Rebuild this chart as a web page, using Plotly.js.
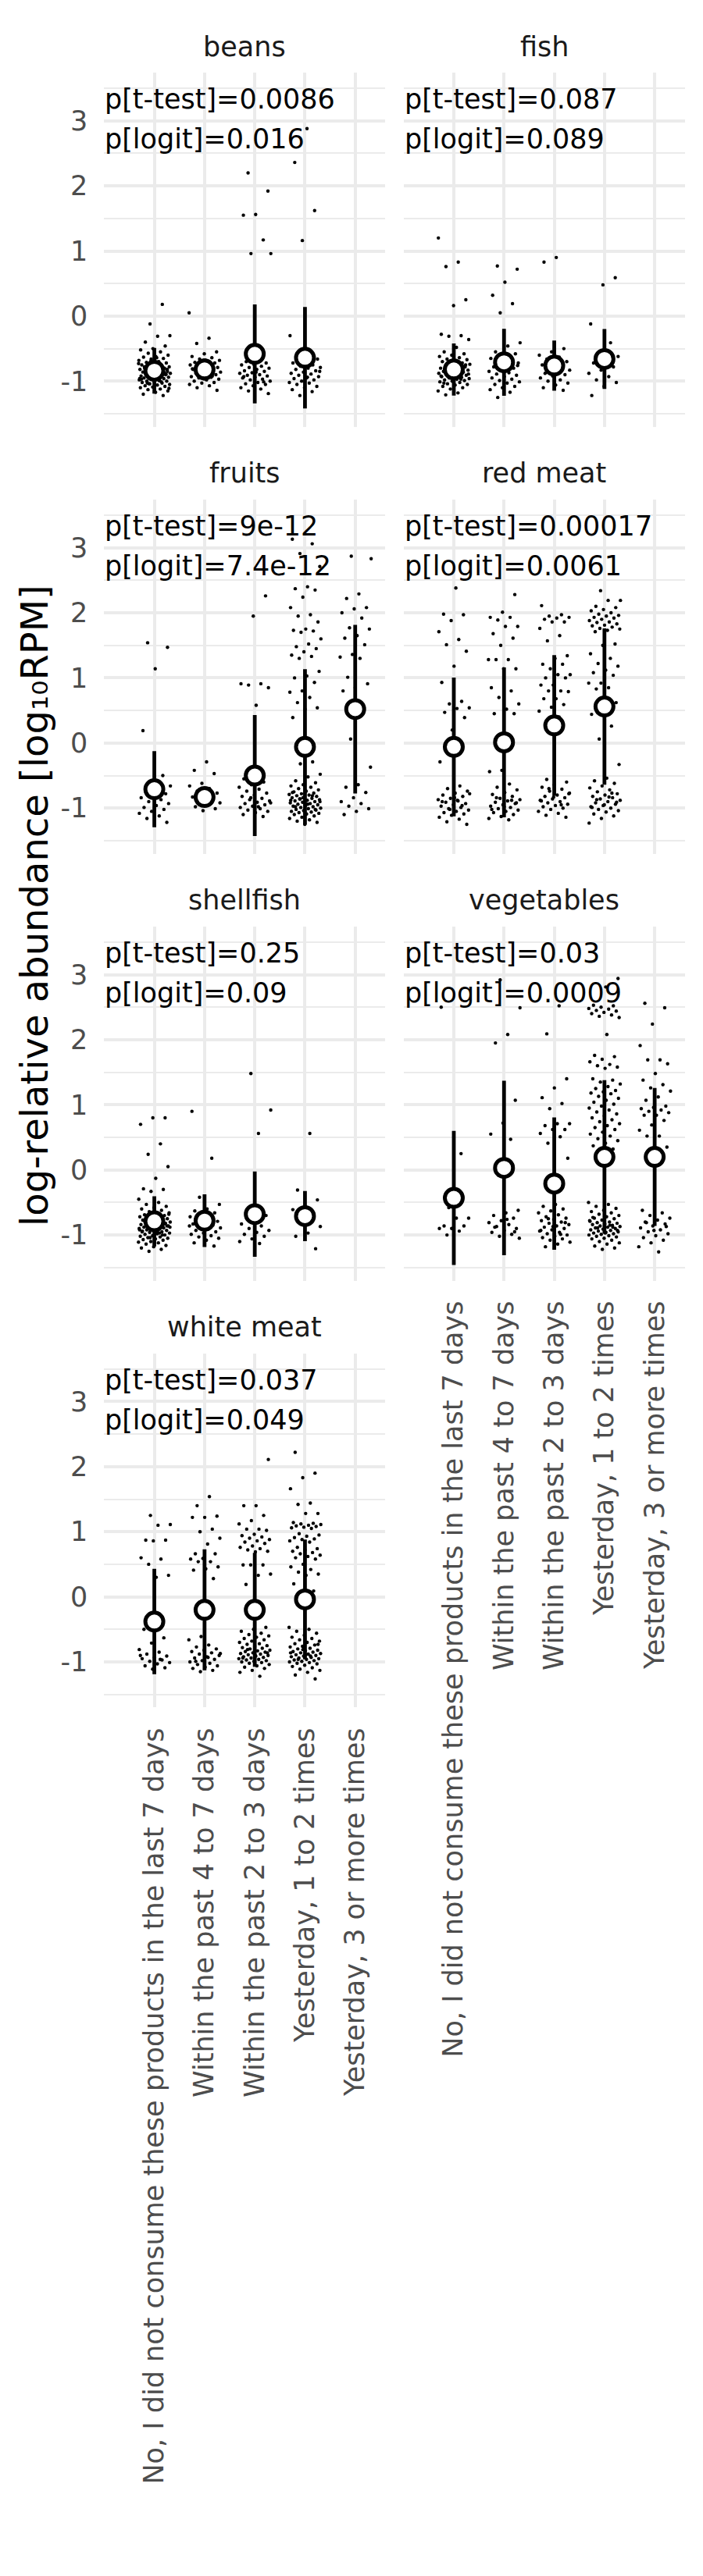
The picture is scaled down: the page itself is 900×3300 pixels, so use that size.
<!DOCTYPE html>
<html>
<head>
<meta charset="utf-8">
<script src="https://cdn.plot.ly/plotly-3.0.1.min.js"></script>
<style>html,body{margin:0;padding:0;background:#fff;}#chart{width:900px;height:3300px;}</style>
</head>
<body>
<div id="chart"></div>
<script>
// ---------------- DATA ----------------
const categories = [
  "No, I did not consume these products in the last 7 days",
  "Within the past 4 to 7 days",
  "Within the past 2 to 3 days",
  "Yesterday, 1 to 2 times",
  "Yesterday, 3 or more times"
];
const facets = ["beans", "fish", "fruits", "red meat", "shellfish", "vegetables", "white meat"];
const pTtest = ["0.0086", "0.087", "9e-12", "0.00017", "0.25", "0.03", "0.037"];
const pLogit = ["0.016", "0.089", "7.4e-12", "0.0061", "0.09", "0.0009", "0.049"];
const yTickVals = [-1, 0, 1, 2, 3];
const yTickText = ["-1", "0", "1", "2", "3"];

// group means and standard deviations (log10 RPM)
const beansMean = [-0.84, -0.82, -0.58, -0.64, null];
const beansSd   = [0.35, 0.17, 0.76, 0.78, null];
const fishMean  = [-0.82, -0.71, -0.76, -0.66, null];
const fishSd    = [0.40, 0.515, 0.385, 0.46, null];
const fruitsMean = [-0.71, -0.83, -0.50, -0.06, 0.52];
const fruitsSd   = [0.585, 0.15, 0.93, 1.195, 1.295];
const redMeatMean = [-0.06, 0.01, 0.27, 0.56, null];
const redMeatSd   = [1.065, 1.15, 1.08, 1.20, null];
const shellfishMean = [-0.79, -0.78, -0.68, -0.71, null];
const shellfishSd   = [0.385, 0.405, 0.655, 0.385, null];
const vegetablesMean = [-0.43, 0.03, -0.21, 0.20, 0.20];
const vegetablesSd   = [1.03, 1.34, 1.015, 1.18, 1.06];
const whiteMeatMean = [-0.38, -0.20, -0.20, -0.04, null];
const whiteMeatSd   = [0.81, 0.93, 0.875, 0.92, null];

// individual observations per category
const beansPts = [
  [0.18,-0.12,-0.30,-0.31,-0.40,-0.46,-0.50,-0.52,-0.55,-0.57,-0.60,-0.62,-0.63,-0.65,-0.66,-0.68,-0.70,-0.71,-0.72,-0.74,-0.75,-0.76,-0.77,-0.78,-0.79,-0.80,-0.80,-0.81,-0.82,-0.83,-0.84,-0.85,-0.85,-0.86,-0.87,-0.88,-0.88,-0.89,-0.90,-0.90,-0.91,-0.92,-0.92,-0.93,-0.94,-0.95,-0.95,-0.96,-0.97,-0.98,-0.99,-1.00,-1.00,-1.01,-1.02,-1.03,-1.04,-1.05,-1.06,-1.07,-1.08,-1.09,-1.10,-1.12,-1.13,-1.15,-1.17,-1.20,-1.22,-0.69,-0.73,-0.83,-0.86,-0.89,-0.93,-0.97,-1.01,-1.04,-1.11,-0.64,-0.78,-0.87,-0.91,-0.96,-0.99,-1.03,-0.82,-0.94],
  [0.05,-0.34,-0.42,-0.55,-0.58,-0.62,-0.64,-0.66,-0.68,-0.70,-0.71,-0.72,-0.74,-0.75,-0.76,-0.78,-0.79,-0.80,-0.82,-0.83,-0.85,-0.86,-0.87,-0.88,-0.90,-0.91,-0.93,-0.94,-0.95,-0.97,-0.98,-1.00,-1.02,-1.03,-1.05,-1.07,-1.10,-1.14,-0.73,-0.81,-0.92],
  [2.20,1.92,1.56,1.55,1.17,0.96,0.96,-0.68,-0.70,-0.72,-0.74,-0.75,-0.77,-0.79,-0.80,-0.82,-0.84,-0.85,-0.87,-0.88,-0.90,-0.91,-0.92,-0.94,-0.95,-0.97,-0.98,-1.00,-1.02,-1.04,-1.05,-1.07,-1.10,-1.12,-1.15,-1.19,-0.86,-0.93,-1.01],
  [2.88,2.36,1.62,1.16,-0.30,-0.55,-0.62,-0.66,-0.70,-0.72,-0.75,-0.77,-0.79,-0.80,-0.82,-0.84,-0.86,-0.88,-0.89,-0.91,-0.93,-0.95,-0.96,-0.98,-1.00,-1.02,-1.03,-1.05,-1.08,-1.10,-1.13,-1.16,-1.22,-0.85,-0.94],
  []
];
const fishPts = [
  [1.20,0.83,0.76,0.25,0.16,-0.28,-0.30,-0.31,-0.36,-0.48,-0.55,-0.58,-0.60,-0.62,-0.64,-0.66,-0.67,-0.69,-0.70,-0.72,-0.73,-0.74,-0.76,-0.77,-0.78,-0.79,-0.80,-0.81,-0.82,-0.83,-0.84,-0.85,-0.86,-0.87,-0.88,-0.89,-0.90,-0.91,-0.92,-0.93,-0.94,-0.95,-0.96,-0.97,-0.98,-0.99,-1.00,-1.01,-1.02,-1.04,-1.05,-1.06,-1.08,-1.10,-1.12,-1.15,-1.18,-1.21,-0.75,-0.85,-0.92,-0.97,-0.80,-0.89,-0.95,-1.03],
  [0.77,0.72,0.52,0.32,0.19,0.05,-0.41,-0.46,-0.55,-0.58,-0.62,-0.65,-0.68,-0.70,-0.72,-0.75,-0.78,-0.80,-0.82,-0.85,-0.87,-0.89,-0.91,-0.93,-0.95,-0.97,-0.99,-1.01,-1.03,-1.05,-1.08,-1.10,-1.13,-1.17,-1.25,-0.76,-0.84],
  [0.90,0.83,-0.50,-0.55,-0.60,-0.63,-0.66,-0.70,-0.72,-0.75,-0.78,-0.80,-0.83,-0.85,-0.88,-0.90,-0.92,-0.95,-0.98,-1.00,-1.03,-1.06,-1.10,-1.14,-0.87],
  [0.59,0.48,-0.12,-0.41,-0.58,-0.62,-0.68,-0.72,-0.78,-0.83,-0.88,-0.93,-0.98,-1.02,-1.08,-1.22],
  []
];
const fruitsPts = [
  [1.54,1.47,1.14,0.19,-0.50,-0.62,-0.66,-0.70,-0.74,-0.78,-0.81,-0.84,-0.87,-0.90,-0.93,-0.96,-0.99,-1.02,-1.05,-1.08,-1.12,-1.16,-1.22],
  [-0.29,-0.42,-0.47,-0.62,-0.66,-0.70,-0.74,-0.77,-0.80,-0.83,-0.86,-0.89,-0.92,-0.95,-0.98,-1.01,-1.04],
  [2.26,1.95,0.91,0.91,0.89,0.85,0.58,-0.55,-0.60,-0.64,-0.68,-0.71,-0.74,-0.77,-0.80,-0.82,-0.85,-0.87,-0.89,-0.91,-0.93,-0.95,-0.97,-0.99,-1.01,-1.03,-1.05,-1.07,-1.10,-1.13,-0.84,-0.92,-0.98],
  [3.13,3.06,2.91,2.71,2.40,2.37,2.35,2.24,2.08,1.97,1.95,1.86,1.75,1.73,1.72,1.70,1.60,1.52,1.48,1.45,1.40,1.35,1.33,1.30,1.10,1.03,1.00,0.93,0.80,0.78,0.70,0.62,0.54,0.52,0.39,-0.29,-0.32,-0.48,-0.52,
   -0.58,-0.61,-0.64,-0.66,-0.68,-0.70,-0.72,-0.74,-0.75,-0.77,-0.78,-0.79,-0.80,-0.81,-0.82,-0.83,-0.84,-0.85,-0.86,-0.87,-0.88,-0.89,-0.90,-0.91,-0.92,-0.93,-0.94,-0.95,-0.96,-0.97,-0.98,-0.99,-1.00,-1.01,-1.02,-1.03,-1.04,-1.05,-1.06,-1.07,-1.08,-1.09,-1.10,-1.12,-1.14,-1.16,-1.18,-1.20,-1.22,-1.25,-0.76,-0.81,-0.86,-0.90,-0.94,-0.98,-1.02,-0.84,-0.88],
  [2.87,2.83,2.29,2.22,2.08,2.06,2.00,1.92,1.77,1.75,1.65,1.61,1.51,1.36,1.32,1.30,1.01,0.91,0.85,0.80,0.56,0.06,-0.37,-0.64,-0.68,-0.76,-0.84,-0.90,-0.93,-0.97,-1.01,-1.05,-1.10]
];
const redMeatPts = [
  [2.38,1.98,1.97,1.88,1.71,1.59,1.51,1.41,1.18,0.93,0.64,0.60,0.54,0.53,0.47,0.39,0.20,-0.29,
   -0.66,-0.70,-0.74,-0.77,-0.80,-0.82,-0.85,-0.87,-0.89,-0.91,-0.93,-0.95,-0.97,-0.99,-1.01,-1.03,-1.05,-1.07,-1.09,-1.11,-1.14,-1.17,-1.21,-1.25,-0.84,-0.90,-0.96,-1.02,-0.78,-0.88],
  [2.28,2.01,1.93,1.93,1.89,1.79,1.79,1.68,1.61,1.50,1.28,1.28,1.28,1.14,1.14,0.85,0.80,0.70,0.60,0.52,0.45,0.45,-0.42,-0.44,
   -0.63,-0.68,-0.72,-0.76,-0.79,-0.82,-0.85,-0.87,-0.89,-0.91,-0.93,-0.95,-0.97,-0.99,-1.01,-1.03,-1.05,-1.07,-1.10,-1.13,-1.16,-1.18,-0.84,-0.92,-0.98,-1.02,-0.88],
  [2.11,1.97,1.95,1.93,1.92,1.90,1.86,1.86,1.76,1.65,1.57,1.34,1.30,1.21,1.21,1.14,1.05,1.05,1.00,1.00,0.89,0.89,0.80,0.80,0.79,0.68,0.68,0.59,0.55,0.49,0.40,
   -0.56,-0.60,-0.64,-0.68,-0.71,-0.74,-0.77,-0.80,-0.82,-0.84,-0.86,-0.88,-0.90,-0.92,-0.94,-0.96,-0.98,-1.00,-1.02,-1.05,-1.08,-1.11,-1.14,-0.83,-0.89,-0.95,-0.70,-0.78],
  [2.34,2.19,2.19,2.10,2.08,2.05,2.03,2.00,1.98,1.96,1.95,1.93,1.92,1.90,1.88,1.86,1.85,1.83,1.81,1.80,1.78,1.76,1.75,1.73,1.71,1.52,1.50,1.37,1.30,1.22,1.18,1.12,1.08,1.04,0.92,0.92,0.85,0.83,0.62,0.60,0.44,0.26,0.06,-0.33,
   -0.54,-0.58,-0.62,-0.66,-0.69,-0.72,-0.75,-0.78,-0.80,-0.82,-0.84,-0.86,-0.88,-0.90,-0.92,-0.94,-0.96,-0.98,-1.00,-1.02,-1.04,-1.06,-1.09,-1.12,-1.16,-1.23,-0.83,-0.87,-0.91,-0.95,-0.99,-0.77],
  []
];
const shellfishPts = [
  [0.80,0.80,0.70,0.40,0.24,0.05,-0.13,-0.29,-0.30,-0.33,-0.45,-0.50,-0.53,-0.56,-0.58,-0.60,-0.62,-0.64,-0.66,-0.67,-0.69,-0.70,-0.71,-0.72,-0.73,-0.74,-0.75,-0.76,-0.77,-0.78,-0.79,-0.80,-0.80,-0.81,-0.82,-0.83,-0.84,-0.85,-0.85,-0.86,-0.87,-0.88,-0.89,-0.90,-0.90,-0.91,-0.92,-0.93,-0.94,-0.95,-0.95,-0.96,-0.97,-0.98,-0.99,-1.00,-1.01,-1.02,-1.03,-1.04,-1.05,-1.06,-1.07,-1.08,-1.10,-1.11,-1.12,-1.14,-1.16,-1.18,-1.20,-1.22,-1.25,-0.68,-0.74,-0.78,-0.83,-0.87,-0.92,-0.97,-0.81,-0.86,-0.91,-0.94,-1.00,-1.04,-0.88,-0.96],
  [0.90,0.18,-0.42,-0.53,-0.60,-0.63,-0.66,-0.69,-0.72,-0.74,-0.77,-0.79,-0.81,-0.83,-0.85,-0.87,-0.89,-0.91,-0.93,-0.95,-0.97,-0.99,-1.01,-1.03,-1.05,-1.08,-1.12,-1.17,-0.76,-0.86],
  [1.48,0.92,0.56,-0.66,-0.70,-0.76,-0.83,-0.86,-0.90,-0.93,-0.96,-0.99,-1.02,-1.06,-1.10,-1.13],
  [0.56,-0.31,-0.46,-0.56,-0.61,-0.70,-0.78,-0.87,-0.97,-1.02,-1.21],
  []
];
const vegetablesPts = [
  [2.50,0.25,-0.58,-0.74,-0.74,-0.86,-0.86,-0.90,-0.90,-0.94,-1.00],
  [2.92,2.49,2.08,1.95,1.07,0.72,0.55,0.47,-0.08,-0.62,-0.66,-0.70,-0.74,-0.78,-0.81,-0.84,-0.87,-0.90,-0.93,-0.96,-0.99,-1.02,-1.05,-0.76,-0.88,-0.95],
  [2.52,2.09,1.40,1.26,1.11,1.02,0.94,0.71,0.71,0.68,0.62,0.62,0.56,0.51,0.41,0.18,
   -0.53,-0.56,-0.60,-0.63,-0.66,-0.69,-0.72,-0.74,-0.76,-0.78,-0.80,-0.82,-0.84,-0.86,-0.88,-0.90,-0.92,-0.94,-0.96,-0.98,-1.00,-1.02,-1.04,-1.06,-1.08,-1.11,-1.14,-1.18,-0.81,-0.87,-0.93,-0.99,-0.75],
  [2.94,2.81,2.53,2.52,2.50,2.48,2.47,2.45,2.44,2.42,2.40,2.38,2.36,2.34,2.08,1.76,1.74,1.70,1.66,1.62,1.60,1.58,1.56,1.40,1.38,1.35,1.32,1.28,1.25,1.22,1.20,1.18,1.17,1.13,1.10,1.07,1.04,1.01,0.98,0.95,0.92,0.89,0.86,0.83,0.80,0.77,0.74,0.71,0.68,0.65,0.62,0.58,0.55,0.52,0.48,0.45,0.41,0.37,0.32,0.11,
   -0.50,-0.53,-0.56,-0.59,-0.62,-0.64,-0.66,-0.68,-0.70,-0.72,-0.74,-0.75,-0.77,-0.78,-0.80,-0.81,-0.82,-0.83,-0.84,-0.85,-0.86,-0.87,-0.88,-0.89,-0.90,-0.91,-0.92,-0.93,-0.94,-0.95,-0.96,-0.97,-0.98,-0.99,-1.00,-1.01,-1.02,-1.03,-1.05,-1.06,-1.08,-1.10,-1.12,-1.14,-1.17,-1.20,-1.22,-0.79,-0.85,-0.89,-0.93,-0.97,-0.73,-0.88],
  [2.56,2.49,2.24,1.91,1.69,1.69,1.63,1.48,1.38,1.31,1.26,1.21,1.12,1.07,0.98,0.96,0.94,0.92,0.90,0.88,0.84,0.84,0.76,0.69,0.61,0.52,0.52,0.35,0.07,
   -0.62,-0.66,-0.70,-0.74,-0.77,-0.80,-0.83,-0.86,-0.89,-0.92,-0.95,-0.98,-1.01,-1.04,-1.08,-1.12,-1.18,-1.26,-0.81,-0.87,-0.93]
];
const whiteMeatPts = [
  [1.25,1.11,1.10,0.87,0.87,0.86,0.60,0.58,0.50,0.33,0.30,-0.50,-0.63,-0.71,-0.81,-0.85,-0.88,-0.91,-0.93,-0.95,-0.97,-0.99,-1.01,-1.03,-1.06,-1.09,-1.11,-0.90,-0.96],
  [1.54,1.40,1.24,1.22,1.22,1.04,1.00,0.90,0.81,0.66,0.66,0.59,0.58,0.54,0.54,0.46,0.43,0.41,0.28,-0.61,-0.66,-0.74,-0.77,-0.80,-0.82,-0.84,-0.86,-0.88,-0.90,-0.92,-0.94,-0.96,-0.98,-1.00,-1.02,-1.04,-1.06,-1.08,-1.10,-1.13,-1.15,-0.87,-0.93,-0.99],
  [2.11,1.40,1.40,1.25,1.17,1.12,1.04,1.04,1.02,0.96,0.94,0.92,0.90,0.88,0.86,0.84,0.82,0.78,0.76,0.74,0.72,0.70,0.69,0.49,0.49,0.49,0.35,0.33,0.19,
   -0.47,-0.50,-0.53,-0.56,-0.58,-0.60,-0.62,-0.64,-0.66,-0.68,-0.70,-0.72,-0.73,-0.75,-0.76,-0.78,-0.79,-0.80,-0.82,-0.83,-0.84,-0.85,-0.86,-0.87,-0.88,-0.89,-0.90,-0.91,-0.92,-0.93,-0.94,-0.95,-0.96,-0.97,-0.98,-0.99,-1.00,-1.01,-1.02,-1.04,-1.06,-1.08,-1.10,-1.13,-1.16,-1.22,-0.81,-0.86,-0.90,-0.94],
  [2.22,1.90,1.83,1.66,1.44,1.42,1.28,1.28,1.14,1.13,1.12,1.11,1.10,1.09,1.08,1.07,1.06,1.05,0.97,0.95,0.93,0.91,0.89,0.88,0.86,0.84,0.76,0.74,0.72,0.70,0.68,0.66,0.64,0.62,0.60,0.58,0.50,0.46,0.42,0.38,0.35,0.33,0.20,0.09,-0.12,
   -0.47,-0.50,-0.53,-0.56,-0.59,-0.62,-0.64,-0.66,-0.68,-0.70,-0.72,-0.74,-0.76,-0.77,-0.79,-0.80,-0.82,-0.83,-0.84,-0.85,-0.86,-0.87,-0.88,-0.89,-0.90,-0.91,-0.92,-0.93,-0.94,-0.95,-0.96,-0.97,-0.98,-0.99,-1.00,-1.01,-1.02,-1.03,-1.05,-1.07,-1.09,-1.11,-1.13,-1.16,-1.20,-1.26,-0.81,-0.86,-0.91,-0.96,-0.73,-0.89],
  []
];

// ---------------- BUILD ----------------
const panelMeans = [beansMean, fishMean, fruitsMean, redMeatMean, shellfishMean, vegetablesMean, whiteMeatMean];
const panelSds   = [beansSd, fishSd, fruitsSd, redMeatSd, shellfishSd, vegetablesSd, whiteMeatSd];
const panelPts   = [beansPts, fishPts, fruitsPts, redMeatPts, shellfishPts, vegetablesPts, whiteMeatPts];

const W = 900, H = 3300;
const colX = [[133.3, 493.3], [516.7, 876.7]];
const rowTop0 = 93.0, rowStep = 546.9, panelH = 453.7;
const FONT = "DejaVu Sans, sans-serif";
const GRID = "#EBEBEB";
const catIdx = [1, 2, 3, 4, 5];

function jit(i, k) {
  const f = ((i + 1) * 0.6180339887 + k * 0.2718 + 0.13) % 1;
  return (f - 0.5) * 0.64;
}

const traces = [];
const layout = {
  width: W, height: H,
  margin: {l: 0, r: 0, t: 0, b: 0},
  paper_bgcolor: "#ffffff", plot_bgcolor: "#ffffff",
  showlegend: false,
  font: {family: FONT, color: "#1A1A1A"},
  annotations: []
};

facets.forEach((name, p) => {
  const row = Math.floor(p / 2), col = p % 2;
  const top = rowTop0 + row * rowStep;
  const bot = top + panelH;
  const n = p + 1;
  const xa = "xaxis" + (n === 1 ? "" : n), ya = "yaxis" + (n === 1 ? "" : n);
  const xr = "x" + (n === 1 ? "" : n), yr = "y" + (n === 1 ? "" : n);
  const isBottom = (name === "white meat" || name === "vegetables");

  layout[xa] = {
    domain: [colX[col][0] / W, colX[col][1] / W],
    anchor: yr, range: [0, 5.6],
    tickmode: "array", tickvals: catIdx, ticktext: categories,
    showticklabels: isBottom, tickangle: -90, ticks: "",
    ticklabelstandoff: 18,
    tickfont: {family: FONT, size: 35, color: "#4D4D4D"},
    showgrid: true, gridcolor: GRID, gridwidth: 4,
    zeroline: false, showline: false, fixedrange: true
  };
  layout[ya] = {
    domain: [1 - bot / H, 1 - top / H],
    anchor: xr, range: [-1.70, 3.74],
    tickmode: "array", tickvals: yTickVals, ticktext: yTickText,
    showticklabels: col === 0, ticks: "",
    ticklabelstandoff: 20,
    tickfont: {family: FONT, size: 35, color: "#4D4D4D"},
    showgrid: true, gridcolor: GRID, gridwidth: 4,
    minor: {tickmode: "array", tickvals: [-1.5, -0.5, 0.5, 1.5, 2.5, 3.5], showgrid: true, gridcolor: GRID, gridwidth: 2, ticks: ""},
    zeroline: false, showline: false, fixedrange: true
  };

  // jittered observations
  const px = [], py = [];
  panelPts[p].forEach((vals, c) => {
    vals.forEach((v, i) => { px.push(catIdx[c] + jit(i, c + p)); py.push(v); });
  });
  traces.push({
    type: "scatter", mode: "markers", x: px, y: py, xaxis: xr, yaxis: yr,
    marker: {size: 4.4, color: "#000000", line: {width: 0}},
    hoverinfo: "skip"
  });

  // mean +/- sd
  const mx = [], my = [], me = [];
  panelMeans[p].forEach((m, c) => {
    if (m !== null) { mx.push(catIdx[c]); my.push(m); me.push(panelSds[p][c]); }
  });
  traces.push({
    type: "scatter", mode: "markers", x: mx, y: my, xaxis: xr, yaxis: yr,
    error_y: {type: "data", array: me, visible: true, thickness: 4.8, width: 0, color: "#000000"},
    marker: {size: 23, color: "#ffffff", line: {color: "#000000", width: 5}},
    hoverinfo: "skip"
  });

  // strip label
  layout.annotations.push({
    xref: "paper", yref: "paper",
    x: (colX[col][0] + colX[col][1]) / 2 / W, y: 1 - (top - 33.5) / H,
    xanchor: "center", yanchor: "middle", showarrow: false,
    text: name, font: {family: FONT, size: 35, color: "#1A1A1A"}
  });
  // p-value labels
  layout.annotations.push({
    xref: xr + " domain", yref: yr, x: 0, y: 3.33,
    xanchor: "left", yanchor: "middle", showarrow: false, borderpad: 0,
    text: "p[t-test]=" + pTtest[p], font: {family: FONT, size: 35, color: "#000000"}
  });
  layout.annotations.push({
    xref: xr + " domain", yref: yr, x: 0, y: 2.72,
    xanchor: "left", yanchor: "middle", showarrow: false, borderpad: 0,
    text: "p[logit]=" + pLogit[p], font: {family: FONT, size: 35, color: "#000000"}
  });
});

// y-axis title
layout.annotations.push({
  xref: "paper", yref: "paper", x: 44 / W, y: 1 - 1160 / H,
  xanchor: "center", yanchor: "middle", showarrow: false, textangle: -90,
  text: "log-relative abundance [log₁₀RPM]",
  font: {family: FONT, size: 48, color: "#000000"}
});

Plotly.newPlot("chart", traces, layout, {staticPlot: true, displayModeBar: false});
</script>
</body>
</html>
